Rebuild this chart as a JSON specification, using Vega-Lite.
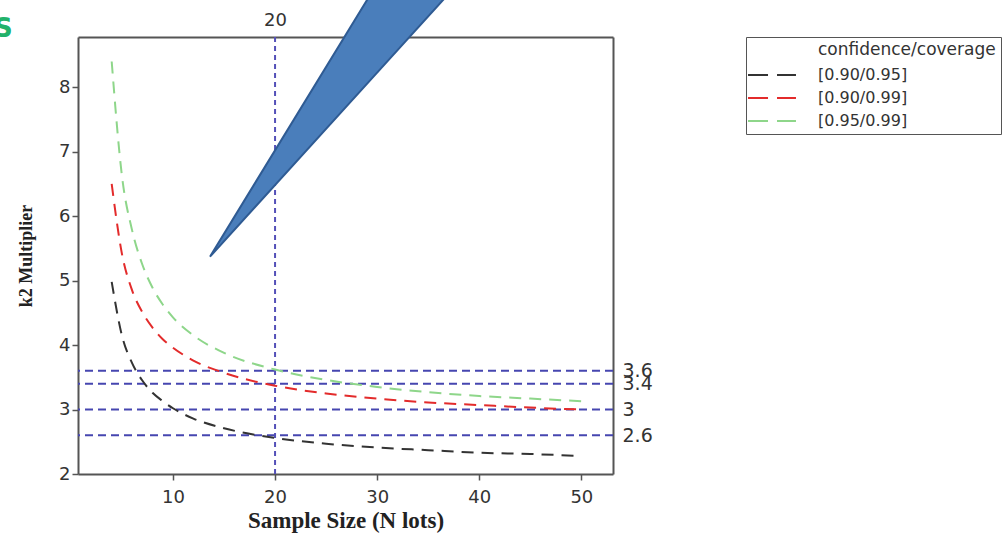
{
  "$schema": "https://vega.github.io/schema/vega-lite/v6.json",
  "width": 535,
  "height": 437,
  "autosize": {"type": "none"},
  "padding": {"left": 78, "top": 37, "right": 390, "bottom": 62},
  "background": "white",
  "title": {"text": "S", "anchor": "start", "frame": "group", "color": "#22b26a", "fontSize": 26, "fontWeight": "bold", "font": "DejaVu Sans", "baseline": "alphabetic", "offset": 0, "dx": -84, "dy": 87},
  "config": {
    "view": {"stroke": null},
    "axis": {"domainColor": "#555555", "domainWidth": 2, "tickColor": "#555555", "tickWidth": 1.5, "tickSize": 6, "labelColor": "#333333", "labelFont": "DejaVu Sans", "labelFontSize": 18, "grid": false, "titleColor": "#222222"}
  },
  "datasets": {
    "curves": [
      {"n": 4, "k": 4.98, "series": "[0.90/0.95]"},
      {"n": 5, "k": 4.15, "series": "[0.90/0.95]"},
      {"n": 6, "k": 3.72, "series": "[0.90/0.95]"},
      {"n": 7, "k": 3.45, "series": "[0.90/0.95]"},
      {"n": 8, "k": 3.26, "series": "[0.90/0.95]"},
      {"n": 9, "k": 3.13, "series": "[0.90/0.95]"},
      {"n": 10, "k": 3.02, "series": "[0.90/0.95]"},
      {"n": 12, "k": 2.86, "series": "[0.90/0.95]"},
      {"n": 15, "k": 2.71, "series": "[0.90/0.95]"},
      {"n": 20, "k": 2.56, "series": "[0.90/0.95]"},
      {"n": 25, "k": 2.47, "series": "[0.90/0.95]"},
      {"n": 30, "k": 2.41, "series": "[0.90/0.95]"},
      {"n": 35, "k": 2.37, "series": "[0.90/0.95]"},
      {"n": 40, "k": 2.33, "series": "[0.90/0.95]"},
      {"n": 45, "k": 2.31, "series": "[0.90/0.95]"},
      {"n": 50, "k": 2.28, "series": "[0.90/0.95]"},
      {"n": 4, "k": 6.5, "series": "[0.90/0.99]"},
      {"n": 5, "k": 5.42, "series": "[0.90/0.99]"},
      {"n": 6, "k": 4.85, "series": "[0.90/0.99]"},
      {"n": 7, "k": 4.51, "series": "[0.90/0.99]"},
      {"n": 8, "k": 4.27, "series": "[0.90/0.99]"},
      {"n": 9, "k": 4.09, "series": "[0.90/0.99]"},
      {"n": 10, "k": 3.96, "series": "[0.90/0.99]"},
      {"n": 12, "k": 3.76, "series": "[0.90/0.99]"},
      {"n": 15, "k": 3.57, "series": "[0.90/0.99]"},
      {"n": 20, "k": 3.37, "series": "[0.90/0.99]"},
      {"n": 25, "k": 3.25, "series": "[0.90/0.99]"},
      {"n": 30, "k": 3.17, "series": "[0.90/0.99]"},
      {"n": 35, "k": 3.11, "series": "[0.90/0.99]"},
      {"n": 40, "k": 3.07, "series": "[0.90/0.99]"},
      {"n": 45, "k": 3.03, "series": "[0.90/0.99]"},
      {"n": 50, "k": 3.0, "series": "[0.90/0.99]"},
      {"n": 4, "k": 8.4, "series": "[0.95/0.99]"},
      {"n": 5, "k": 6.63, "series": "[0.95/0.99]"},
      {"n": 6, "k": 5.78, "series": "[0.95/0.99]"},
      {"n": 7, "k": 5.25, "series": "[0.95/0.99]"},
      {"n": 8, "k": 4.89, "series": "[0.95/0.99]"},
      {"n": 9, "k": 4.63, "series": "[0.95/0.99]"},
      {"n": 10, "k": 4.43, "series": "[0.95/0.99]"},
      {"n": 12, "k": 4.15, "series": "[0.95/0.99]"},
      {"n": 15, "k": 3.88, "series": "[0.95/0.99]"},
      {"n": 20, "k": 3.62, "series": "[0.95/0.99]"},
      {"n": 25, "k": 3.46, "series": "[0.95/0.99]"},
      {"n": 30, "k": 3.35, "series": "[0.95/0.99]"},
      {"n": 35, "k": 3.27, "series": "[0.95/0.99]"},
      {"n": 40, "k": 3.21, "series": "[0.95/0.99]"},
      {"n": 45, "k": 3.17, "series": "[0.95/0.99]"},
      {"n": 50, "k": 3.13, "series": "[0.95/0.99]"}
    ],
    "hlines": [{"k": 3.6}, {"k": 3.4}, {"k": 3.0}, {"k": 2.6}],
    "vline": [{"n": 20}],
    "wedge": [
      {"wx": 13.63, "wy": 5.372, "wy2": 5.372},
      {"wx": 30.22, "wy": 8.267, "wy2": 9.667},
      {"wx": 38.25, "wy": 9.667, "wy2": 9.667}
    ]
  },
  "resolve": {"axis": {"x": "independent", "y": "independent"}},
  "layer": [
    {
      "data": {"name": "hlines"},
      "mark": {"type": "rule", "color": "#4646b0", "strokeWidth": 2, "strokeDash": [8, 5]},
      "encoding": {
        "y": {"field": "k", "type": "quantitative", "scale": {"domain": [2, 8.78], "nice": false, "zero": false},
          "axis": {"orient": "right", "values": [2.6, 3, 3.4, 3.6], "format": ".2~f", "ticks": false, "labelPadding": 9, "labelOverlap": false, "labelFontSize": 19, "title": null, "domainColor": "#555555"}}
      }
    },
    {
      "data": {"name": "vline"},
      "mark": {"type": "rule", "color": "#5450b8", "strokeWidth": 2, "strokeDash": [5, 4]},
      "encoding": {
        "x": {"field": "n", "type": "quantitative", "scale": {"domain": [0.7, 53.1], "nice": false, "zero": false},
          "axis": {"orient": "top", "values": [20], "ticks": false, "labelPadding": 8, "title": null}}
      }
    },
    {
      "data": {"name": "curves"},
      "mark": {"type": "line", "strokeWidth": 2, "strokeDash": [12, 8], "interpolate": "monotone"},
      "encoding": {
        "x": {"field": "n", "type": "quantitative", "scale": {"domain": [0.7, 53.1], "nice": false, "zero": false},
          "axis": {"orient": "bottom", "values": [10, 20, 30, 40, 50], "labelPadding": 8, "title": "Sample Size (N lots)", "titleFont": "Liberation Serif", "titleFontWeight": "bold", "titleFontSize": 23, "titlePadding": 3}},
        "y": {"field": "k", "type": "quantitative", "scale": {"domain": [2, 8.78], "nice": false, "zero": false},
          "axis": {"orient": "left", "values": [2, 3, 4, 5, 6, 7, 8], "format": "d", "labelPadding": 2, "title": "k2 Multiplier", "titleFont": "Liberation Serif", "titleFontWeight": "bold", "titleFontSize": 18, "titlePadding": 23}},
        "color": {"field": "series", "type": "nominal",
          "scale": {"domain": ["[0.90/0.95]", "[0.90/0.99]", "[0.95/0.99]"], "range": ["#333333", "#e32b2b", "#8ed68a"]},
          "legend": {"orient": "none", "legendX": 668, "legendY": 0, "title": "confidence/coverage",
            "strokeColor": "#555555", "fillColor": "white", "padding": 5,
            "titleFont": "DejaVu Sans", "titleFontSize": 17, "titleFontWeight": "normal", "titleColor": "#333333", "titlePadding": 4,
            "labelFont": "DejaVu Sans", "labelFontSize": 16, "labelColor": "#333333", "labelOffset": 34,
            "symbolType": "M-2.18,0H2.18", "symbolSize": 484, "symbolOffset": 9, "symbolStrokeWidth": 2, "symbolDash": [20, 9], "rowPadding": 3,
            "encode": {"title": {"update": {"dx": {"value": 67}}}}}}
      }
    },
    {
      "data": {"name": "wedge"},
      "mark": {"type": "area", "color": "#4a7ebb", "fill": "#4a7ebb", "stroke": "#2f5b93", "strokeWidth": 2, "clip": false, "opacity": 1},
      "encoding": {
        "x": {"field": "wx", "type": "quantitative", "scale": {"domain": [0.7, 53.1], "nice": false, "zero": false}, "axis": null},
        "y": {"field": "wy", "type": "quantitative", "scale": {"domain": [2, 8.78], "nice": false, "zero": false}, "axis": null},
        "y2": {"field": "wy2"}
      }
    }
  ]
}
